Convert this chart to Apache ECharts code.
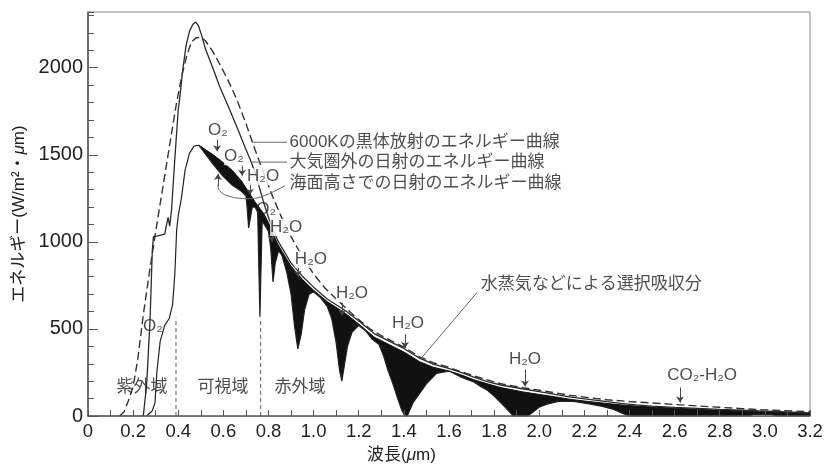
<!DOCTYPE html>
<html>
<head>
<meta charset="utf-8">
<title>太陽放射のスペクトル</title>
<script src="https://cdn.jsdelivr.net/npm/echarts@6/dist/echarts.min.js"></script>
<style>
html, body { margin: 0; padding: 0; background: #fff; }
#main { width: 830px; height: 466px; }
</style>
</head>
<body>
<div id="main"></div>
<script>
// 6000K の黒体放射 (破線)
var bbX = [0.14,0.16,0.18,0.20,0.22,0.245,0.275,0.305,0.335,0.365,0.39,0.415,0.44,0.46,0.48,0.50,0.52,0.55,0.58,0.62,0.66,0.70,0.74,0.78,0.82,0.86,0.90,0.95,1.00,1.05,1.11,1.18,1.25,1.30,1.35,1.40,1.47,1.53,1.59,1.71,1.83,1.93,2.00,2.14,2.30,2.40,2.50,2.60,2.70,2.80,2.90,3.00,3.10,3.20];
var bbY = [0,25,90,170,320,580,850,1100,1340,1580,1780,1950,2080,2150,2172,2175,2155,2100,2030,1930,1816,1680,1530,1390,1255,1135,1030,915,815,735,660,575,500,462,428,396,340,306,283,230,185,162,148,118,93,83,75,66,58,50,42,35,30,25];

// 大気圏外の日射
var outerX = [0.245,0.26,0.275,0.285,0.29,0.31,0.34,0.35,0.355,0.362,0.37,0.385,0.40,0.407,0.413,0.42,0.435,0.45,0.465,0.478,0.49,0.505,0.52,0.55,0.584,0.628,0.66,0.70,0.72,0.74,0.76,0.78,0.80,0.82,0.84,0.86,0.90,0.95,1.00,1.06,1.14,1.20,1.27,1.35,1.40,1.47,1.53,1.59,1.65,1.71,1.77,1.83,1.93,2.00,2.07,2.14,2.22,2.30,2.36,2.43,2.50,2.60,2.70,2.80,2.90,3.00,3.10,3.20];
var outerY = [0,180,550,950,1030,1035,1045,1110,1140,1090,1180,1480,1760,1830,1830,1990,2130,2210,2250,2262,2240,2180,2110,2010,1891,1759,1660,1530,1470,1400,1310,1220,1140,1075,1010,965,878,803,740,672,606,546,472,420,388,332,298,276,252,223,198,178,155,140,124,108,95,82,73,64,57,50,44,38,33,28,23,18];

// 海面高さ: 吸収がない場合の上端 (黒塗りの上辺)
var envX = [0.49,0.50,0.52,0.555,0.60,0.64,0.68,0.70,0.72,0.74,0.76,0.78,0.80,0.82,0.84,0.86,0.90,0.95,1.00,1.06,1.14,1.20,1.27,1.35,1.40,1.47,1.53,1.59,1.65,1.71,1.77,1.83,1.93,2.00,2.07,2.14,2.22,2.30,2.36,2.43,2.50,2.60,2.70,2.80,2.90,3.00,3.10,3.20];
var envY = [1555,1548,1530,1500,1455,1410,1350,1310,1270,1230,1195,1160,1110,1050,990,945,860,785,722,657,590,528,452,400,368,312,280,262,238,208,185,163,138,124,110,95,83,72,64,57,51,45,39,33,28,24,19,14];

// 海面高さでの日射 (実際の曲線)
var seaX = [0.26,0.285,0.297,0.305,0.32,0.34,0.36,0.375,0.385,0.393,0.40,0.415,0.43,0.45,0.47,0.49,0.50,0.52,0.555,0.60,0.64,0.68,0.70,0.705,0.712,0.72,0.728,0.74,0.752,0.758,0.762,0.766,0.772,0.78,0.80,0.81,0.82,0.83,0.845,0.86,0.88,0.90,0.915,0.93,0.945,0.96,0.98,1.00,1.03,1.06,1.08,1.10,1.115,1.125,1.135,1.15,1.17,1.20,1.23,1.26,1.29,1.31,1.33,1.35,1.37,1.39,1.405,1.415,1.44,1.47,1.50,1.545,1.60,1.65,1.71,1.74,1.77,1.80,1.83,1.86,1.885,1.95,1.975,2.00,2.04,2.08,2.12,2.16,2.22,2.28,2.33,2.37,2.40,2.93,2.95,3.03,3.05,3.20];
var seaY = [0,30,77,250,430,520,560,640,820,1070,1150,1260,1410,1510,1550,1555,1540,1505,1445,1375,1325,1290,1265,1200,1080,1090,1200,1200,1170,800,570,800,1120,1130,1060,960,770,880,950,920,830,700,520,385,470,610,700,712,680,630,560,420,260,200,280,400,480,520,490,440,410,345,260,190,110,35,0,0,75,130,185,245,258,225,195,170,148,115,75,35,0,0,25,50,70,83,85,82,70,55,38,15,0,0,9,9,0,0];

// 紫外域・可視域・赤外域の境界
var bandX = [0.39, 0.765];
var bandTop = 565;

// 注記の文字とその位置 (データ座標)
var noteText = ['6000Kの黒体放射のエネルギー曲線','大気圏外の日射のエネルギー曲線','海面高さでの日射のエネルギー曲線','水蒸気などによる選択吸収分','紫外域','可視域','赤外域','O₂','O₂','O₂','O₂','H₂O','H₂O','H₂O','H₂O','H₂O','H₂O','CO₂-H₂O'];
var noteX = [0.891,0.891,0.891,1.738,0.239,0.598,0.94,0.288,0.576,0.647,0.79,0.776,0.878,0.988,1.170,1.418,1.937,2.722];
var noteY = [1572,1458,1337,755,163,163,163,514,1638,1489,1185,1374,1082,898,703,531,324,232];
var noteLeft = [true,true,true,true,false,false,false,false,false,false,false,false,false,false,false,false,false,false];
var noteBg = [false,false,false,false,false,false,false,false,true,true,false,true,true,true,true,true,false,false];

// 引き出し線
var leaders = [
  [[0.731,1572],[0.882,1572]],
  [[0.722,1458],[0.882,1458]],
  [[0.873,1322],[0.771,1260],[0.705,1248],[0.63,1260],[0.585,1290],[0.576,1330]],
  [[1.724,709],[1.472,324]]
];
// 矢印 [x, 始点y, 終点y]
var arrows = [
  [0.572,1587,1520],
  [0.683,1437,1380],
  [0.718,1335,1270],
  [0.815,1040,1000],
  [0.93,850,800],
  [1.126,651,575],
  [1.405,468,390],
  [1.937,267,170],
  [2.624,164,77],
  [0.576,1320,1390]
];

function zip(xs, ys) {
  return xs.map(function (x, i) { return [x, ys[i]]; });
}

var FONT = "'Liberation Sans', 'Noto Sans CJK JP', sans-serif";
var chart = echarts.init(document.getElementById('main'));

var series = [
  {
    name: 'envelope', type: 'line', data: zip(envX, envY),
    symbol: 'none', silent: true,
    lineStyle: { color: '#111', width: 1 },
    areaStyle: { color: '#111', opacity: 1 }
  },
  {
    name: 'sea', type: 'line', data: zip(seaX, seaY),
    symbol: 'none', silent: true,
    lineStyle: { color: '#222', width: 1.2 },
    areaStyle: { color: '#fff', opacity: 1 }
  },
  {
    name: 'outer', type: 'line', data: zip(outerX, outerY),
    symbol: 'none', silent: true,
    lineStyle: { color: '#2a2a2a', width: 1.3 }
  },
  {
    name: 'bb', type: 'line', data: zip(bbX, bbY),
    symbol: 'none', silent: true,
    lineStyle: { color: '#333', width: 1.4, type: [8, 4] }
  }
];

bandX.forEach(function (x) {
  series.push({
    type: 'line', data: [[x, 0], [x, bandTop]], symbol: 'none', silent: true,
    lineStyle: { color: '#777', width: 1.2, type: [4, 3] }
  });
});

leaders.forEach(function (pts) {
  series.push({
    type: 'line', data: pts, symbol: 'none', silent: true, smooth: pts.length > 2 ? 0.4 : false,
    lineStyle: { color: '#666', width: 1 }
  });
});

series.push({
  type: 'scatter', silent: true, symbolSize: 1, z: 5,
  itemStyle: { color: 'rgba(0,0,0,0)' },
  data: noteText.map(function (t, i) {
    return {
      value: [noteX[i], noteY[i]],
      label: {
        show: true, formatter: t,
        position: noteLeft[i] ? 'right' : 'inside',
        distance: 0,
        color: '#222', fontSize: 17, fontFamily: FONT,
        backgroundColor: noteBg[i] ? '#fff' : 'transparent'
      }
    };
  }),
  markLine: {
    silent: true, animation: false,
    symbol: ['none', 'arrow'], symbolSize: 6,
    label: { show: false },
    lineStyle: { color: '#444', width: 1, type: 'solid' },
    data: arrows.map(function (a) {
      return [{ coord: [a[0], a[1]] }, { coord: [a[0], a[2]] }];
    })
  }
});

var option = {
  animation: false,
  backgroundColor: '#fff',
  textStyle: { fontFamily: FONT },
  grid: {
    left: 88, right: 20, top: 12, bottom: 50,
    show: true, borderColor: '#888', borderWidth: 1,
    outerBoundsMode: 'none'
  },
  xAxis: {
    type: 'value', min: 0, max: 3.2, interval: 0.2, z: 10,
    name: '{a|波長(}{i|μ}{a|m)}',
    nameLocation: 'middle', nameGap: 29,
    nameTextStyle: {
      padding: [0, 95, 0, 0],
      rich: {
        a: { fontSize: 17, color: '#222', fontFamily: FONT },
        i: { fontSize: 17, color: '#222', fontFamily: FONT, fontStyle: 'italic' }
      }
    },
    axisLine: { lineStyle: { color: '#555', width: 1.5 } },
    axisTick: { inside: true, length: 6, lineStyle: { color: '#555' } },
    minorTick: { show: true, splitNumber: 2, length: 6, lineStyle: { color: '#555' } },
    splitLine: { show: false },
    axisLabel: {
      fontSize: 18.5, color: '#222', margin: 7, fontFamily: FONT,
      formatter: function (v) { return v === 0 ? '0' : v.toFixed(1); }
    }
  },
  yAxis: [
    {
      type: 'value', min: 0, max: 2320, interval: 500, z: 10,
      name: '{a|エネルギー(W/m²・}{i|μ}{a|m)}',
      nameLocation: 'middle', nameGap: 59, nameRotate: 90,
      nameTextStyle: {
        rich: {
          a: { fontSize: 17, color: '#222', fontFamily: FONT },
          i: { fontSize: 17, color: '#222', fontFamily: FONT, fontStyle: 'italic' }
        }
      },
      axisLine: { show: true, lineStyle: { color: '#555', width: 1.5 } },
      axisTick: { inside: true, length: 10, lineStyle: { color: '#555' } },
      splitLine: { show: false },
      axisLabel: {
        fontSize: 20, color: '#222', margin: 5, showMaxLabel: false, fontFamily: FONT,
        formatter: function (v) { return String(v); }
      }
    },
    {
      type: 'value', min: 0, max: 2320, interval: 100, position: 'left', z: 10,
      axisLine: { show: false },
      axisTick: { inside: true, length: 6, lineStyle: { color: '#555' } },
      axisLabel: { show: false },
      splitLine: { show: false }
    }
  ],
  series: series
};

chart.setOption(option);
</script>
</body>
</html>
